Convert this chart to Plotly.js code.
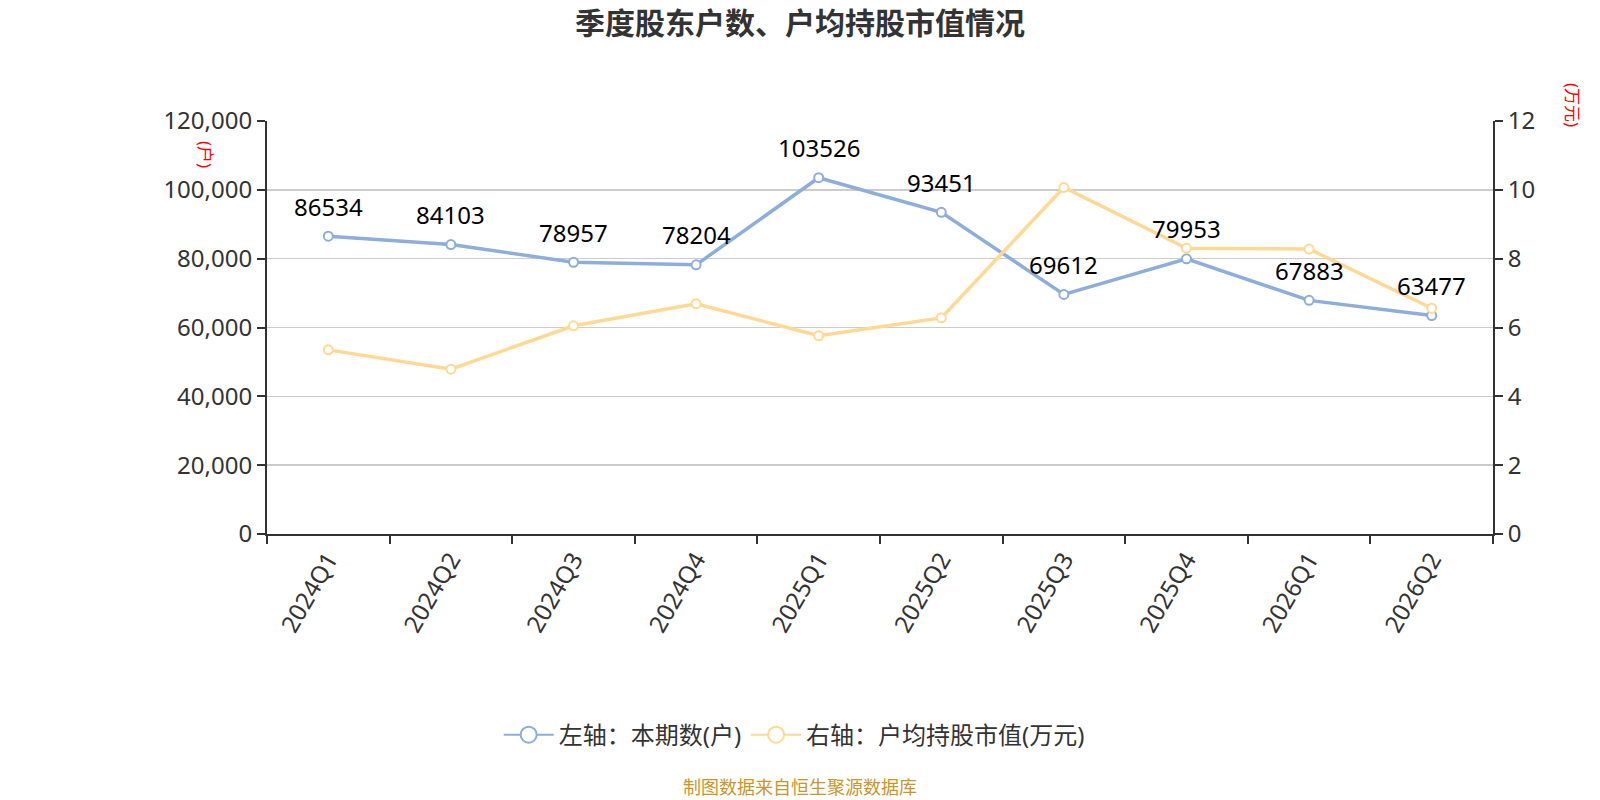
<!DOCTYPE html>
<html>
<head>
<meta charset="utf-8">
<script src="https://cdn.plot.ly/plotly-3.0.1.min.js"></script>
<style>html,body{margin:0;padding:0;background:#fff;}#chart{width:1600px;height:800px;}</style>
</head>
<body>
<div id="chart"></div>
<script>
const categories = ['2024Q1','2024Q2','2024Q3','2024Q4','2025Q1','2025Q2','2025Q3','2025Q4','2026Q1','2026Q2'];
const holders = [86534, 84103, 78957, 78204, 103526, 93451, 69612, 79953, 67883, 63477];
const avgValue = [5.35, 4.79, 6.05, 6.69, 5.76, 6.28, 10.07, 8.30, 8.28, 6.56];
const leftTicks = [0, 20000, 40000, 60000, 80000, 100000, 120000];
const rightTicks = [0, 2, 4, 6, 8, 10, 12];
const seriesNames = ['左轴：本期数(户)', '右轴：户均持股市值(万元)'];

const FONT = 'Noto Sans, Noto Sans CJK SC, sans-serif';
const blue = '#8daddc';
const orange = '#ffd993';

const traces = [
  {
    x: categories, y: holders, type: 'scatter', mode: 'lines+markers',
    name: seriesNames[0], yaxis: 'y', showlegend: false,
    line: {color: blue, width: 3.5},
    marker: {symbol: 'circle', size: 9, color: '#ffffff', line: {color: blue, width: 2}},
    cliponaxis: false
  },
  {
    x: categories, y: avgValue, type: 'scatter', mode: 'lines+markers',
    name: seriesNames[1], yaxis: 'y2', showlegend: false,
    line: {color: orange, width: 3.5},
    marker: {symbol: 'circle', size: 9, color: '#ffffff', line: {color: orange, width: 2}},
    cliponaxis: false
  },
  {
    x: [null], y: [null], type: 'scatter', mode: 'lines+markers', name: seriesNames[0], yaxis: 'y',
    line: {color: blue, width: 2},
    marker: {symbol: 'circle', size: 16, color: '#ffffff', line: {color: blue, width: 2}}
  },
  {
    x: [null], y: [null], type: 'scatter', mode: 'lines+markers', name: seriesNames[1], yaxis: 'y2',
    line: {color: orange, width: 2},
    marker: {symbol: 'circle', size: 16, color: '#ffffff', line: {color: orange, width: 2}}
  }
];

const annotations = categories.map((c, i) => ({
  x: c, y: holders[i], xref: 'x', yref: 'y', text: String(holders[i]),
  showarrow: false, yshift: 30, font: {family: FONT, size: 24, color: '#000'}
}));

annotations.push({
  xref: 'paper', yref: 'paper', x: -0.0506, y: 0.918, xanchor: 'center', yanchor: 'middle', text: '(户)', textangle: 90,
  showarrow: false, font: {family: FONT, size: 17, color: '#ff0000'}
});
annotations.push({
  xref: 'paper', yref: 'paper', x: 1.0644, y: 1.039, xanchor: 'center', yanchor: 'middle', text: '(万元)', textangle: 90,
  showarrow: false, font: {family: FONT, size: 17, color: '#ff0000'}
});
annotations.push({
  xref: 'paper', yref: 'paper', x: 0.4347, y: -0.613, xanchor: 'center', yanchor: 'middle', text: '制图数据来自恒生聚源数据库',
  showarrow: false, font: {family: FONT, size: 18, color: '#c8962c'}
});

const layout = {
  width: 1600, height: 800,
  margin: {l: 267, r: 107, t: 121, b: 266},
  paper_bgcolor: '#fff', plot_bgcolor: '#fff',
  font: {family: FONT, color: '#333'},
  title: {text: '<b>季度股东户数、户均持股市值情况</b>', x: 0.5, xref: 'container', y: 0.971, yref: 'container', yanchor: 'middle', font: {family: FONT, size: 30, color: '#333'}},
  showlegend: true,
  legend: {orientation: 'h', x: 0.43, xanchor: 'center', y: -0.487, yanchor: 'middle', font: {family: FONT, size: 24, color: '#333'}, itemsizing: 'trace', itemwidth: 50, tracegroupgap: 20},
  xaxis: {
    type: 'category', range: [-0.5, categories.length - 0.5], tickson: 'boundaries',
    ticks: 'outside', ticklen: 8, tickwidth: 2, tickcolor: '#333',
    showline: true, linecolor: '#333', linewidth: 2, showgrid: false, zeroline: false,
    tickangle: -60, tickfont: {family: FONT, size: 24, color: '#333'}
  },
  yaxis: {
    range: [0, 120000], tickvals: leftTicks, tickformat: ',', ticks: 'outside', ticklen: 8, tickwidth: 2, tickcolor: '#333',
    showline: true, linecolor: '#333', linewidth: 2, showgrid: true, gridcolor: '#cccccc', gridwidth: 1.5, zeroline: false,
    tickfont: {family: FONT, size: 24, color: '#333'}
  },
  yaxis2: {
    range: [0, 12], tickvals: rightTicks, overlaying: 'y', side: 'right', ticks: 'outside', ticklen: 8, tickwidth: 2, tickcolor: '#333',
    showline: true, linecolor: '#333', linewidth: 2, showgrid: false, zeroline: false,
    tickfont: {family: FONT, size: 24, color: '#333'}
  },
  annotations: annotations
};

Plotly.newPlot('chart', traces, layout, {displayModeBar: false, staticPlot: true});
</script>
</body>
</html>
